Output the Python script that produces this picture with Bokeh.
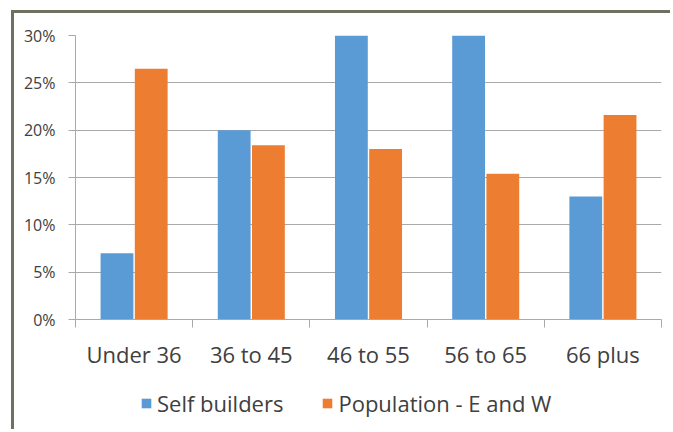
from bokeh.plotting import figure
from bokeh.layouts import column
from bokeh.models import Range1d, FixedTicker, ColumnDataSource, Legend, LegendItem
from bokeh.embed import file_html
from bokeh.resources import INLINE

categories = ["Under 36", "36 to 45", "46 to 55", "56 to 65", "66 plus"]
self_builders = [7.0, 20.0, 30.0, 30.0, 13.0]
population = [26.5, 18.4, 18.0, 15.4, 21.6]
y_ticks = [0, 5, 10, 15, 20, 25, 30]
series_names = ["Self builders", "Population - E and W"]
colors = ["#5b9bd5", "#ed7d31"]

FONT = "Open Sans"
TXT = "#404040"
GRID = "#a9a9a9"
FRAME = "#6e7160"

centers = [i + 0.5 for i in range(len(categories))]
src = ColumnDataSource(dict(
    xb=[c - 0.146 for c in centers],
    xo=[c + 0.146 for c in centers],
    sb=self_builders,
    po=population,
))

p = figure(width=659, height=367, output_backend="svg", toolbar_location=None,
           x_range=Range1d(0, len(categories)), y_range=Range1d(0, 30),
           min_border_left=61, min_border_top=22, min_border_right=12, min_border_bottom=61,
           margin=(10, 0, 0, 11),
           styles={"border-left": f"3px solid {FRAME}", "border-top": f"3px solid {FRAME}"})
p.outline_line_color = None
p.background_fill_color = "white"
p.border_fill_color = "white"

p.vbar(x="xb", top="sb", width=0.28, source=src, fill_color=colors[0], line_color=None)
p.vbar(x="xo", top="po", width=0.28, source=src, fill_color=colors[1], line_color=None)

# y axis
ya = p.yaxis[0]
ya.ticker = FixedTicker(ticks=y_ticks)
ya.major_label_overrides = {t: f"{t}%" for t in y_ticks}
ya.major_label_text_font = FONT
ya.major_label_text_font_size = "16px"
ya.major_label_text_color = TXT
ya.axis_line_color = GRID
ya.major_tick_line_color = GRID
ya.major_tick_out = 7
ya.major_tick_in = 0
ya.minor_tick_line_color = None
ya.major_label_standoff = 13

# x axis
xa = p.xaxis[0]
xa.ticker = FixedTicker(ticks=centers, minor_ticks=list(range(len(categories) + 1)))
xa.major_label_overrides = {c: lab for c, lab in zip(centers, categories)}
xa.major_label_text_font = FONT
xa.major_label_text_font_size = "22px"
xa.major_label_text_color = TXT
xa.axis_line_color = GRID
xa.major_tick_line_color = None
xa.minor_tick_line_color = GRID
xa.minor_tick_out = 8
xa.minor_tick_in = 0
xa.major_label_standoff = 11

p.xgrid.grid_line_color = None
p.ygrid.ticker = FixedTicker(ticks=y_ticks)
p.ygrid.grid_line_color = GRID

# legend strip
q = figure(width=659, height=52, output_backend="svg", toolbar_location=None,
           x_range=Range1d(0, 1), y_range=Range1d(0, 1),
           x_axis_type=None, y_axis_type=None,
           min_border=0, margin=(0, 0, 0, 11),
           styles={"border-left": f"3px solid {FRAME}"})
q.grid.grid_line_color = None
q.outline_line_color = None
q.background_fill_color = "white"
q.border_fill_color = "white"
nan = float("nan")
dummy = ColumnDataSource(dict(x=[nan], top=[nan]))
lb = q.vbar(x="x", top="top", width=0.1, source=dummy, fill_color=colors[0], line_color=None)
lo = q.vbar(x="x", top="top", width=0.1, source=dummy, fill_color=colors[1], line_color=None)

legend = Legend(items=[LegendItem(label=series_names[0], renderers=[lb]),
                       LegendItem(label=series_names[1], renderers=[lo])],
                orientation="horizontal", location=(65, 11),
                border_line_color=None, background_fill_alpha=0,
                label_text_font=FONT, label_text_font_size="22px", label_text_color=TXT,
                glyph_width=12, glyph_height=12, label_standoff=5, spacing=38,
                margin=0, padding=4)
q.add_layout(legend)

layout = column(p, q, spacing=0)
open("out.html", "w").write(file_html(layout, INLINE))
